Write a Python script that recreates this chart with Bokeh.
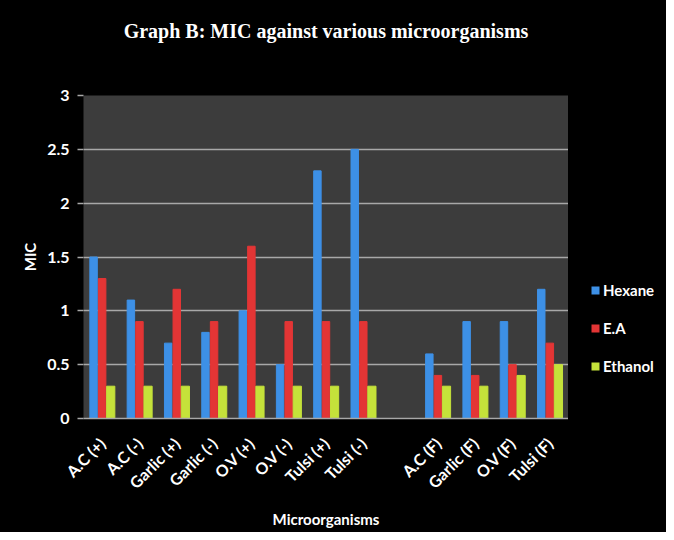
import math
from bokeh.plotting import figure
from bokeh.layouts import row
from bokeh.models import (FactorRange, ColumnDataSource, Legend, LegendItem, FixedTicker,
                          Range1d, Title)
from bokeh.transform import dodge
from bokeh.embed import file_html
from bokeh.resources import INLINE

factors = ["A.C (+)", "A.C (-)", "Garlic (+)", "Garlic (-)", "O.V (+)", "O.V (-)",
           "Tulsi (+)", "Tulsi (-)", " ", "A.C (F)", "Garlic (F)", "O.V (F)", "Tulsi (F)"]
categories = ["A.C (+)", "A.C (-)", "Garlic (+)", "Garlic (-)", "O.V (+)", "O.V (-)",
              "Tulsi (+)", "Tulsi (-)", "A.C (F)", "Garlic (F)", "O.V (F)", "Tulsi (F)"]
hexane = [1.5, 1.1, 0.7, 0.8, 1.0, 0.5, 2.3, 2.5, 0.6, 0.9, 0.9, 1.2]
ea = [1.3, 0.9, 1.2, 0.9, 1.6, 0.9, 0.9, 0.9, 0.4, 0.4, 0.5, 0.7]
ethanol = [0.3, 0.3, 0.3, 0.3, 0.3, 0.3, 0.3, 0.3, 0.3, 0.3, 0.4, 0.5]
series_names = ["Hexane", "E.A", "Ethanol"]
y_ticks = [0, 0.5, 1, 1.5, 2, 2.5, 3]
y_tick_labels = ["0", "0.5", "1", "1.5", "2", "2.5", "3"]

colors = ["#3d90e6", "#e33535", "#c5e23a"]
cols = ["hexane", "ea", "ethanol"]
offsets = [-0.23, 0.0, 0.23]
widths = [0.2, 0.2, 0.22]

src = ColumnDataSource(dict(cat=categories, hexane=hexane, ea=ea, ethanol=ethanol))

H = 532
p = figure(x_range=FactorRange(*factors), y_range=Range1d(0, 3),
           width=568, height=H, output_backend="svg", toolbar_location=None,
           min_border_left=83, min_border_right=0, min_border_top=95, min_border_bottom=H - 418)
p.background_fill_color = "#3c3c3c"
p.border_fill_color = "#000000"
p.outline_line_color = None
p.x_range.range_padding = 0
p.x_range.group_padding = 0

for c, col, off, w in zip(colors, cols, offsets, widths):
    p.vbar(x=dodge("cat", off, range=p.x_range), top=col, width=w, source=src, color=c)

p.xgrid.grid_line_color = None
p.ygrid.grid_line_color = "#a8a8a8"
p.ygrid.grid_line_width = 1.5

p.yaxis.ticker = FixedTicker(ticks=y_ticks)
p.yaxis.major_label_overrides = {t: l for t, l in zip(y_ticks, y_tick_labels)}
p.yaxis.axis_line_color = None
p.yaxis.major_tick_line_color = "#a8a8a8"
p.yaxis.major_tick_line_width = 1.5
p.yaxis.major_tick_out = 6
p.yaxis.major_tick_in = 0
p.yaxis.minor_tick_line_color = None
p.yaxis.major_label_standoff = 8
p.yaxis.major_label_text_color = "white"
p.yaxis.major_label_text_font = "Lato"
p.yaxis.major_label_text_font_style = "bold"
p.yaxis.major_label_text_font_size = "16px"
p.yaxis.axis_label = "MIC"
p.yaxis.axis_label_text_color = "white"
p.yaxis.axis_label_text_font = "Lato"
p.yaxis.axis_label_text_font_style = "bold"
p.yaxis.axis_label_text_font_size = "15px"
p.yaxis.axis_label_standoff = 5

p.xaxis.axis_line_color = "#a8a8a8"
p.xaxis.axis_line_width = 1.5
p.xaxis.major_tick_line_color = None
p.xaxis.minor_tick_line_color = None
p.xaxis.major_label_orientation = math.pi / 4
p.xaxis.major_label_standoff = 16
p.xaxis.major_label_text_color = "white"
p.xaxis.major_label_text_font = "Lato"
p.xaxis.major_label_text_font_style = "bold"
p.xaxis.major_label_text_font_size = "16px"
p.xaxis.axis_label = "Microorganisms"
p.xaxis.axis_label_text_color = "white"
p.xaxis.axis_label_text_font = "Lato"
p.xaxis.axis_label_text_font_style = "bold"
p.xaxis.axis_label_text_font_size = "15px"
p.xaxis.axis_label_standoff = 8

p.title.text = "Graph B: MIC against various microorganisms"
p.title.text_color = "white"
p.title.text_font = "Liberation Serif"
p.title.text_font_style = "bold"
p.title.text_font_size = "20px"
p.title.align = "center"
p.title.offset = 5
p.title.standoff = 10
# spacer between the title and the plot area
p.add_layout(Title(text=" ", text_font_size="10px", standoff=36), "above")

# legend panel: same series, drawn far outside its visible range, so only the legend shows
q = figure(width=98, height=H, output_backend="svg", toolbar_location=None,
           x_range=FactorRange(*factors), y_range=Range1d(1000, 1001),
           min_border_left=0, min_border_right=0, min_border_top=95, min_border_bottom=H - 418)
q.axis.visible = False
q.grid.visible = False
q.outline_line_color = None
q.background_fill_color = "#000000"
q.border_fill_color = "#000000"
rs = [q.vbar(x="cat", top=col, width=0.0, source=src, fill_color=c, line_color=None)
      for c, col in zip(colors, cols)]

legend = Legend(items=[LegendItem(label=n, renderers=[r]) for n, r in zip(series_names, rs)],
                location=(22, 42))
legend.background_fill_alpha = 0
legend.border_line_color = None
legend.padding = 4
legend.margin = 0
legend.label_text_color = "white"
legend.label_text_font = "Lato"
legend.label_text_font_style = "bold"
legend.label_text_font_size = "15px"
legend.glyph_width = 10
legend.glyph_height = 10
legend.spacing = 18
legend.label_height = 20
legend.label_standoff = 3
q.add_layout(legend, "center")

layout = row(p, q, spacing=0, styles={"background-color": "black"})
open("out.html", "w").write(file_html(layout, INLINE))
